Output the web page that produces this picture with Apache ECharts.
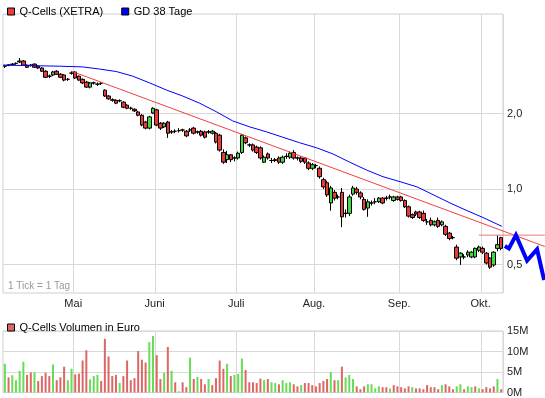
<!DOCTYPE html>
<html>
<head>
<meta charset="utf-8">
<script src="https://cdn.jsdelivr.net/npm/echarts@6/dist/echarts.min.js"></script>
<style>
html, body { margin: 0; padding: 0; background: #fff; }
#chart { width: 545px; height: 398px; }
</style>
</head>
<body>
<div id="chart"></div>
<script>
// Monate (Apr..Okt 2011) und Handelstage je Monat
const monthNames = ['', 'Mai', 'Juni', 'Juli', 'Aug.', 'Sep.', 'Okt.']
const monthDays = [19, 22, 22, 21, 23, 22, 6]

// Kerzen: Eröffnung, Schluss, Tief, Hoch (Euro)
const opens = [
  3.09, 3.12, 3.14, 3.17, 3.21, 3.24, 3.12, 3.12, 3.15, 3.09, 3.04, 2.95, 2.82, 2.85, 2.95, 2.87, 2.85, 2.74, 2.90,
  2.93, 2.82, 2.74, 2.67, 2.55, 2.65, 2.62, 2.64, 2.48, 2.35, 2.27, 2.26, 2.25, 2.22, 2.16, 2.10, 2.08, 2.03, 1.97, 1.85, 1.75, 2.01,
  2.07, 1.83, 1.77, 1.85, 1.69, 1.70, 1.71, 1.72, 1.70, 1.72, 1.75, 1.69, 1.70, 1.69, 1.69, 1.67, 1.67, 1.64, 1.40, 1.31, 1.37, 1.33,
  1.33, 1.40, 1.60, 1.50, 1.50, 1.47, 1.46, 1.28, 1.38, 1.30, 1.30, 1.33, 1.28, 1.35, 1.34, 1.40, 1.33, 1.33, 1.33, 1.27, 1.21,
  1.24, 1.21, 1.09, 1.06, 0.88, 0.97, 0.93, 0.97, 0.80, 0.80, 0.955, 1.00, 0.965, 0.91, 0.84, 0.88, 0.89, 0.89, 0.92, 0.92, 0.93, 0.90, 0.93,
  0.93, 0.90, 0.85, 0.79, 0.81, 0.81, 0.80, 0.74, 0.75, 0.72, 0.75, 0.72, 0.71, 0.667, 0.64, 0.587, 0.536, 0.536, 0.546, 0.536, 0.536, 0.57,
  0.58, 0.555, 0.53, 0.498, 0.58, 0.64
]
const closes = [
  3.09, 3.12, 3.15, 3.17, 3.24, 3.12, 3.06, 3.12, 3.06, 3.04, 2.95, 2.79, 2.82, 2.93, 2.87, 2.79, 2.72, 2.74, 2.90,
  2.77, 2.72, 2.65, 2.55, 2.65, 2.65, 2.62, 2.64, 2.35, 2.29, 2.26, 2.20, 2.25, 2.12, 2.10, 2.10, 2.05, 1.97, 1.80, 1.75, 1.94, 2.10,
  1.80, 1.75, 1.83, 1.67, 1.69, 1.70, 1.71, 1.72, 1.63, 1.72, 1.67, 1.69, 1.64, 1.61, 1.69, 1.70, 1.54, 1.43, 1.28, 1.37, 1.31, 1.33,
  1.39, 1.64, 1.53, 1.50, 1.43, 1.40, 1.33, 1.34, 1.33, 1.30, 1.31, 1.28, 1.34, 1.35, 1.39, 1.33, 1.33, 1.29, 1.28, 1.21, 1.25,
  1.24, 1.12, 1.02, 0.947, 1.01, 0.92, 0.93, 0.775, 0.80, 0.93, 1.01, 0.97, 0.93, 0.83, 0.89, 0.88, 0.89, 0.92, 0.88, 0.92, 0.93, 0.93, 0.91,
  0.90, 0.85, 0.78, 0.77, 0.795, 0.77, 0.75, 0.74, 0.72, 0.74, 0.71, 0.74, 0.66, 0.635, 0.64, 0.53, 0.555, 0.536, 0.56, 0.56, 0.58, 0.587,
  0.56, 0.507, 0.488, 0.56, 0.60, 0.58
]
const lows = [
  3.04, 3.09, 3.11, 3.13, 3.18, 3.10, 3.04, 3.08, 3.04, 3.01, 2.93, 2.77, 2.77, 2.82, 2.85, 2.77, 2.69, 2.70, 2.86,
  2.75, 2.70, 2.62, 2.53, 2.52, 2.61, 2.58, 2.60, 2.33, 2.27, 2.23, 2.18, 2.22, 2.10, 2.08, 2.07, 2.03, 1.95, 1.78, 1.73, 1.73, 1.99,
  1.78, 1.72, 1.75, 1.60, 1.66, 1.67, 1.68, 1.69, 1.61, 1.69, 1.65, 1.66, 1.62, 1.59, 1.66, 1.65, 1.52, 1.41, 1.26, 1.27, 1.28, 1.29,
  1.31, 1.38, 1.51, 1.47, 1.41, 1.38, 1.31, 1.27, 1.31, 1.27, 1.28, 1.26, 1.26, 1.32, 1.32, 1.31, 1.30, 1.27, 1.26, 1.19, 1.19,
  1.21, 1.10, 1.00, 0.93, 0.82, 0.90, 0.91, 0.705, 0.77, 0.78, 0.94, 0.95, 0.91, 0.82, 0.775, 0.86, 0.87, 0.88, 0.87, 0.90, 0.91, 0.89, 0.90,
  0.89, 0.84, 0.77, 0.76, 0.78, 0.76, 0.74, 0.72, 0.71, 0.71, 0.70, 0.71, 0.65, 0.625, 0.63, 0.52, 0.498, 0.525, 0.535, 0.53, 0.53, 0.56,
  0.55, 0.50, 0.48, 0.49, 0.565, 0.57
]
const highs = [
  3.13, 3.15, 3.18, 3.20, 3.33, 3.27, 3.14, 3.15, 3.17, 3.11, 3.06, 2.98, 2.86, 2.96, 2.98, 2.90, 2.87, 2.77, 2.95,
  2.95, 2.84, 2.76, 2.70, 2.67, 2.68, 2.66, 2.67, 2.50, 2.37, 2.30, 2.28, 2.28, 2.24, 2.18, 2.13, 2.10, 2.05, 1.99, 1.87, 1.96, 2.12,
  2.09, 1.85, 1.85, 1.87, 1.72, 1.73, 1.75, 1.74, 1.72, 1.75, 1.77, 1.71, 1.72, 1.71, 1.72, 1.72, 1.69, 1.66, 1.44, 1.42, 1.38, 1.35,
  1.41, 1.66, 1.62, 1.52, 1.52, 1.49, 1.48, 1.36, 1.40, 1.33, 1.33, 1.35, 1.36, 1.39, 1.41, 1.43, 1.35, 1.35, 1.34, 1.29, 1.27,
  1.26, 1.23, 1.11, 1.08, 1.03, 0.99, 0.95, 1.01, 0.83, 0.95, 1.03, 1.02, 0.98, 0.93, 0.91, 0.90, 0.92, 0.93, 0.93, 0.94, 0.95, 0.94, 0.94,
  0.94, 0.91, 0.86, 0.80, 0.82, 0.82, 0.82, 0.76, 0.77, 0.75, 0.77, 0.75, 0.72, 0.675, 0.65, 0.60, 0.56, 0.55, 0.57, 0.565, 0.585, 0.595,
  0.59, 0.56, 0.535, 0.565, 0.655, 0.645
]

// Umsatz in Mio. Euro und Richtung (1 = steigend, 0 = fallend)
const volume = [
  7.0, 3.7, 4.2, 3.0, 5.3, 7.5, 4.3, 4.9, 4.9, 2.8, 4.0, 4.8, 4.0, 6.8, 3.0, 3.7, 6.3, 3.0, 5.8, 4.4,
  4.6, 7.8, 10.3, 3.2, 4.0, 4.3, 2.8, 13.1, 8.8, 4.0, 4.3, 2.3, 4.0, 7.8, 3.0, 3.5, 10.1, 8.0, 7.3, 12.3,
  13.8, 9.1, 3.3, 4.8, 11.1, 5.3, 2.5, 0.3, 2.5, 1.3, 8.5, 3.3, 3.8, 3.3, 2.0, 3.3, 1.8, 3.5, 7.8, 5.8,
  7.0, 4.0, 4.3, 4.5, 8.3, 5.5, 2.5, 2.5, 2.3, 3.4, 3.0, 3.3, 2.5, 2.3, 2.0, 3.0, 2.3, 2.5, 2.0, 1.5,
  1.8, 2.3, 2.3, 1.8, 1.5, 2.3, 2.8, 3.3, 5.0, 3.0, 3.0, 6.3, 3.7, 4.3, 3.3, 1.5, 0.8, 1.5, 2.0, 2.0,
  1.0, 1.5, 1.3, 1.3, 1.0, 1.8, 1.5, 1.3, 1.0, 1.5, 1.3, 1.0, 1.0, 0.8, 1.8, 1.3, 1.3, 0.8, 1.8, 2.0,
  1.5, 0.8, 1.5, 2.0, 0.8, 1.5, 1.3, 1.5, 1.0, 0.8, 1.3, 1.0, 1.5, 3.3, 0.8
]
const volumeUp = [
  1, 0, 1, 1, 1, 1, 0, 0, 1, 0, 0, 0, 0, 1, 0, 0, 0, 1, 1, 0,
  0, 0, 0, 1, 1, 1, 0, 0, 0, 0, 0, 1, 0, 0, 0, 0, 0, 0, 0, 1,
  1, 0, 0, 1, 0, 1, 0, 1, 0, 0, 1, 0, 1, 0, 0, 1, 0, 0, 0, 0,
  1, 0, 1, 1, 1, 0, 0, 0, 0, 0, 1, 0, 1, 1, 0, 1, 1, 1, 0, 0,
  1, 0, 0, 0, 0, 0, 0, 0, 1, 0, 1, 0, 1, 1, 1, 0, 0, 0, 1, 1,
  1, 1, 0, 0, 1, 0, 0, 0, 0, 0, 1, 0, 0, 0, 0, 0, 0, 0, 1, 0,
  0, 0, 1, 1, 0, 1, 1, 0, 1, 0, 0, 0, 0, 1, 0
]

// GD 38 Tage (Position in Handelstagen ab linkem Rand)
const maDay = [0, 15.3, 21.5, 26.1, 30.7, 35, 39.6, 44.2, 48.5, 53.1, 57.7, 62, 66.6, 71.2, 75.5, 80.1, 84.7, 89.1, 93.6, 98.2, 102.6, 107.2, 111.8, 116.1, 120.7, 125.3, 129.6, 134.7]
const maValue = [3.12, 3.09, 3.07, 3.01, 2.94, 2.82, 2.65, 2.48, 2.35, 2.20, 2.03, 1.87, 1.77, 1.69, 1.61, 1.53, 1.46, 1.38, 1.28, 1.19, 1.12, 1.07, 1.02, 0.95, 0.88, 0.82, 0.77, 0.71]

// Trendlinie, Widerstand und Prognose-Zickzack
const trendDay = [18.5, 146.3]
const trendValue = [2.95, 0.59]
const levelDay = [128.5, 146.3]
const levelValue = [0.655, 0.655]
const zigDay = [135.5, 136.6, 138.5, 141.5, 144.2, 146.1]
const zigValue = [0.593, 0.58, 0.655, 0.518, 0.575, 0.434]

const yTicks = [0.5, 1, 2]

const categories = []
const monthStart = new Set()
monthDays.forEach((n, m) => {
  monthStart.add(categories.length)
  for (let d = 0; d < n; d++) categories.push(m + '-' + (d + 1))
})
const monthOf = i => {
  let acc = 0
  for (let m = 0; m < monthDays.length; m++) {
    if (i < acc + monthDays[m]) return m
    acc += monthDays[m]
  }
  return monthDays.length - 1
}
const isMonthLine = idx => monthStart.has(idx) && idx > 0

const candles = opens.map((o, i) => [o, closes[i], lows[i], highs[i]])
const pairs = (xs, ys) => xs.map((x, i) => [x, ys[i]])

const grey = '#d9d9d9'
const textFont = { fontFamily: 'Arial, "Liberation Sans", sans-serif', fontSize: 11, color: '#222' }

const chart = echarts.init(document.getElementById('chart'))
chart.setOption({
  animation: false,
  backgroundColor: '#fff',
  textStyle: { fontFamily: 'Arial, "Liberation Sans", sans-serif' },
  legend: [
    {
      left: 2, top: 1, itemWidth: 7, itemHeight: 7, itemGap: 18, selectedMode: false,
      textStyle: Object.assign({}, textFont, { color: '#000' }),
      data: [
        { name: 'Q-Cells (XETRA)', icon: 'rect', itemStyle: { color: '#ee3b3b', borderColor: '#000', borderWidth: 1 } },
        { name: 'GD 38 Tage', icon: 'rect', itemStyle: { color: '#0000ff', borderColor: '#000', borderWidth: 1 } }
      ]
    },
    {
      left: 2, top: 317, itemWidth: 7, itemHeight: 7, selectedMode: false,
      textStyle: Object.assign({}, textFont, { color: '#000' }),
      data: [
        { name: 'Q-Cells Volumen in Euro', icon: 'rect', itemStyle: { color: '#dd6666', borderColor: '#000', borderWidth: 1 } }
      ]
    }
  ],
  graphic: [
    { type: 'text', left: 8, top: 281, style: { text: '1 Tick = 1 Tag', fill: '#9a9a9a', font: '10px Arial, "Liberation Sans", sans-serif' } }
  ],
  grid: [
    { left: 3, right: 42, top: 14, bottom: 105, show: true, borderColor: '#cfcfcf', borderWidth: 1 },
    { left: 3, right: 42, top: 331, bottom: 4, show: true, borderColor: '#cfcfcf', borderWidth: 1 },
    { left: 3, right: 0, top: 14, bottom: 105, show: false }
  ],
  xAxis: [
    {
      type: 'category', gridIndex: 0, data: categories, boundaryGap: true,
      axisLine: { show: false }, axisTick: { show: false },
      axisLabel: Object.assign({}, textFont, {
        interval: isMonthLine, margin: 5, padding: [0, 4, 0, 0],
        formatter: (v, i) => monthNames[monthOf(i)]
      }),
      splitLine: { show: true, interval: isMonthLine, lineStyle: { color: grey } }
    },
    {
      type: 'category', gridIndex: 1, data: categories, boundaryGap: true,
      axisLine: { show: false }, axisTick: { show: false }, axisLabel: { show: false },
      splitLine: { show: true, interval: isMonthLine, lineStyle: { color: grey } }
    },
    { type: 'value', gridIndex: 2, min: 0, max: categories.length * 542 / 500, show: false }
  ],
  yAxis: [
    {
      type: 'log', logBase: 2, gridIndex: 0, position: 'right', min: 0.385, max: 4.99,
      axisLine: { show: false },
      axisTick: { show: false, customValues: yTicks },
      axisLabel: Object.assign({}, textFont, {
        customValues: yTicks, margin: 4,
        formatter: v => v.toFixed(1).replace('.', ',')
      }),
      splitLine: { show: true, lineStyle: { color: grey } }
    },
    {
      type: 'value', gridIndex: 1, position: 'right', min: 0, max: 15, interval: 5,
      axisLine: { show: false }, axisTick: { show: false },
      axisLabel: Object.assign({}, textFont, { margin: 4, formatter: v => v + 'M' }),
      splitLine: { show: true, lineStyle: { color: grey } }
    },
    { type: 'log', logBase: 2, gridIndex: 2, min: 0.385, max: 4.99, show: false }
  ],
  series: [
    {
      name: 'Q-Cells (XETRA)', type: 'candlestick', xAxisIndex: 0, yAxisIndex: 0, z: 3,
      barWidth: 4, data: candles,
      itemStyle: {
        color: '#3fdc3f', color0: '#e83a3a',
        borderColor: '#000', borderColor0: '#000', borderColorDoji: '#000', borderWidth: 1
      }
    },
    {
      name: 'Q-Cells Volumen in Euro', type: 'bar', xAxisIndex: 1, yAxisIndex: 1,
      barWidth: 2, data: volume,
      itemStyle: { color: p => volumeUp[p.dataIndex] ? '#66dd55' : '#dd6666' }
    },
    {
      name: 'GD 38 Tage', type: 'line', xAxisIndex: 2, yAxisIndex: 2, z: 4,
      data: pairs(maDay, maValue), showSymbol: false, clip: false,
      lineStyle: { color: '#0000ff', width: 1 }
    },
    {
      name: 'Trend', type: 'line', xAxisIndex: 2, yAxisIndex: 2, z: 4,
      data: pairs(trendDay, trendValue), showSymbol: false, clip: false,
      lineStyle: { color: '#f04040', width: 1 }
    },
    {
      name: 'Widerstand', type: 'line', xAxisIndex: 2, yAxisIndex: 2, z: 4,
      data: pairs(levelDay, levelValue), showSymbol: false, clip: false,
      lineStyle: { color: '#e87878', width: 1 }
    },
    {
      name: 'Prognose', type: 'line', xAxisIndex: 2, yAxisIndex: 2, z: 5,
      data: pairs(zigDay, zigValue), showSymbol: false, clip: false,
      lineStyle: { color: '#0000ff', width: 4, join: 'miter' }
    }
  ]
})
</script>
</body>
</html>
